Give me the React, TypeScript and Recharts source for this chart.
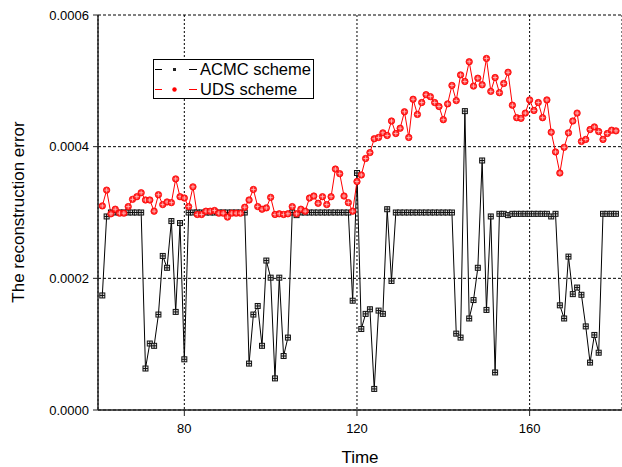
import React from 'react';
import { LineChart, Line, XAxis, YAxis, CartesianGrid, Legend } from 'recharts';

// values are in units of 1e-4
const SCALE = 1e-4;

const times = [
  61, 62, 63, 64, 65, 66, 67, 68, 69, 70,
  71, 72, 73, 74, 75, 76, 77, 78, 79, 80,
  81, 82, 83, 84, 85, 86, 87, 88, 89, 90,
  91, 92, 93, 94, 95, 96, 97, 98, 99, 100,
  101, 102, 103, 104, 105, 106, 107, 108, 109, 110,
  111, 112, 113, 114, 115, 116, 117, 118, 119, 120,
  121, 122, 123, 124, 125, 126, 127, 128, 129, 130,
  131, 132, 133, 134, 135, 136, 137, 138, 139, 140,
  141, 142, 143, 144, 145, 146, 147, 148, 149, 150,
  151, 152, 153, 154, 155, 156, 157, 158, 159, 160,
  161, 162, 163, 164, 165, 166, 167, 168, 169, 170,
  171, 172, 173, 174, 175, 176, 177, 178, 179, 180,
];

const acmc = [
  1.74, 2.94, 3.0, 3.0, 3.0, 3.0, 3.0, 3.0, 3.0, 3.0,
  0.63, 1.01, 0.975, 1.45, 2.34, 2.16, 2.87, 1.49, 2.84, 0.77,
  3.0, 3.0, 3.0, 3.0, 3.0, 3.0, 3.0, 3.0, 3.0, 3.0,
  3.0, 3.0, 3.0, 3.0, 0.705, 1.45, 1.58, 0.975, 2.27, 2.01,
  0.48, 2.01, 0.82, 1.1, 3.0, 2.96, 3.0, 3.0, 3.0, 3.0,
  3.0, 3.0, 3.0, 3.0, 3.0, 3.0, 3.0, 3.0, 1.66, 3.6,
  1.23, 1.46, 1.53, 0.32, 1.51, 1.46, 3.05, 1.96, 3.0, 3.0,
  3.0, 3.0, 3.0, 3.0, 3.0, 3.0, 3.0, 3.0, 3.0, 3.0,
  3.0, 3.0, 1.16, 1.1, 4.54, 1.39, 1.67, 2.16, 3.79, 1.52,
  2.94, 0.57, 2.98, 2.98, 2.96, 2.98, 2.98, 2.98, 2.98, 2.98,
  2.98, 2.98, 2.98, 2.98, 2.94, 2.98, 1.59, 1.39, 2.33, 1.76,
  1.86, 1.75, 1.27, 0.72, 1.14, 0.87, 2.98, 2.98, 2.98, 2.98,
];

const uds = [
  3.1, 3.34, 2.98, 3.05, 2.99, 2.99, 3.09, 3.2, 3.24, 3.3,
  3.19, 3.19, 3.02, 3.27, 3.12, 3.16, 3.15, 3.51, 3.24, 3.22,
  3.09, 3.39, 2.97, 2.97, 3.02, 3.02, 3.03, 2.99, 2.99, 2.93,
  2.99, 2.99, 2.99, 3.08, 3.19, 3.35, 3.09, 3.05, 3.07, 3.23,
  2.97, 2.98, 2.97, 2.98, 3.09, 2.98, 3.05, 3.02, 3.22, 3.25,
  3.14, 3.24, 3.12, 3.24, 3.66, 3.59, 3.25, 3.15, 3.02, 3.47,
  3.57, 3.82, 3.91, 4.12, 4.14, 4.21, 4.17, 4.39, 4.2, 4.28,
  4.53, 4.14, 4.72, 4.49, 4.67, 4.79, 4.76, 4.67, 4.61, 4.41,
  4.65, 4.93, 4.7, 5.09, 4.99, 5.29, 4.92, 5.04, 4.94, 5.34,
  4.84, 5.05, 4.82, 4.96, 5.13, 4.63, 4.44, 4.43, 4.51, 4.71,
  4.55, 4.67, 4.44, 4.71, 4.22, 3.92, 3.6, 3.99, 4.21, 4.39,
  4.51, 4.08, 4.11, 4.26, 4.3, 4.23, 4.11, 4.2, 4.25, 4.24,
];

const xTicks = [80, 120, 160];
const yTicks = [0, 0.0002, 0.0004, 0.0006];
const seriesNames = ['ACMC scheme', 'UDS scheme'];

const data = times.map((t, i) => ({ t, acmc: acmc[i] * SCALE, uds: uds[i] * SCALE }));

const FONT = '"Liberation Sans", Arial, sans-serif';

// square marker with a cross pattern
const SquareDot = (props: any) => {
  const { cx, cy, index } = props;
  if (cx == null || cy == null) return null;
  return (
    <g key={`sq-${index}`}>
      <rect x={cx - 2.5} y={cy - 2.5} width={5} height={5} fill="#ddd" stroke="#111" strokeWidth={1} />
      <line x1={cx - 2.5} y1={cy} x2={cx + 2.5} y2={cy} stroke="#111" strokeWidth={1} />
      <line x1={cx} y1={cy - 2.5} x2={cx} y2={cy + 2.5} stroke="#111" strokeWidth={1} />
    </g>
  );
};

// red circle marker with a light cross
const CircleDot = (props: any) => {
  const { cx, cy, index } = props;
  if (cx == null || cy == null) return null;
  return (
    <g key={`ci-${index}`}>
      <circle cx={cx} cy={cy} r={3.2} fill="#ff2a2a" stroke="#f00" strokeWidth={0.8} />
      <line x1={cx - 2.1} y1={cy} x2={cx + 2.1} y2={cy} stroke="#ffc8c8" strokeWidth={0.8} />
      <line x1={cx} y1={cy - 2.1} x2={cx} y2={cy + 2.1} stroke="#ffc8c8" strokeWidth={0.8} />
    </g>
  );
};

const LegendBox = () => (
  <div
    style={{
      width: 159,
      height: 38,
      border: '1px solid #000',
      background: '#fff',
      position: 'relative',
      fontFamily: FONT,
      fontSize: 16.5,
      color: '#000',
    }}
  >
    <svg width={46} height={38} style={{ position: 'absolute', left: 0, top: 0 }}>
      <line x1={1} y1={9.5} x2={8} y2={9.5} stroke="#000" strokeWidth={1} />
      <rect x={19} y={8} width={3} height={3} fill="#222" />
      <line x1={35} y1={9.5} x2={43} y2={9.5} stroke="#000" strokeWidth={1} />
      <line x1={1} y1={29.5} x2={8} y2={29.5} stroke="#f00" strokeWidth={1} />
      <circle cx={20.5} cy={29.5} r={2.2} fill="#f00" />
      <line x1={35} y1={29.5} x2={43} y2={29.5} stroke="#f00" strokeWidth={1} />
    </svg>
    <div style={{ position: 'absolute', left: 46, top: 0, lineHeight: '19px', whiteSpace: 'nowrap' }}>
      {seriesNames[0]}
    </div>
    <div style={{ position: 'absolute', left: 46, top: 20, lineHeight: '19px', whiteSpace: 'nowrap' }}>
      {seriesNames[1]}
    </div>
  </div>
);

const YLabel = () => (
  <text
    x={18}
    y={212}
    transform="rotate(-90 18 212)"
    textAnchor="middle"
    dominantBaseline="central"
    fontSize={17}
    fontFamily={FONT}
    fill="#000"
  >
    The reconstruction error
  </text>
);

export default function App() {
  return (
    <div style={{ position: 'absolute', left: 0, top: 0, width: 622, height: 467, background: '#fff' }}>
      <LineChart width={622} height={467} data={data} margin={{ top: 15, right: 0, bottom: 0, left: 0 }}>
        <CartesianGrid vertical={false} stroke="#000" strokeDasharray="3 2" />
        <CartesianGrid horizontal={false} stroke="#000" strokeDasharray="2 2" />
        <XAxis
          type="number"
          dataKey="t"
          domain={[60, 181.4]}
          ticks={xTicks}
          allowDataOverflow
          height={57}
          tickSize={6}
          tickMargin={8}
          tick={{ fontSize: 13, fontFamily: FONT, fill: '#000' }}
          axisLine={{ stroke: '#222', strokeWidth: 1.5 }}
          tickLine={{ stroke: '#222' }}
          label={{ value: 'Time', position: 'insideBottom', offset: 4, fontSize: 17, fontFamily: FONT, fill: '#000' }}
        />
        <YAxis
          type="number"
          domain={[0, 0.0006]}
          ticks={yTicks}
          width={98}
          tickSize={5}
          tickMargin={4}
          tickFormatter={(v: number) => v.toFixed(4)}
          tick={{ fontSize: 13, fontFamily: FONT, fill: '#000' }}
          axisLine={{ stroke: '#222', strokeWidth: 1.5 }}
          tickLine={{ stroke: '#222' }}
          label={<YLabel />}
        />
        <Legend
          layout="vertical"
          align="center"
          verticalAlign="middle"
          content={() => <LegendBox />}
          wrapperStyle={{ left: 153, top: 59, width: 161, height: 40, zIndex: 2 }}
        />
        <Line
          type="linear"
          dataKey="acmc"
          name={seriesNames[0]}
          stroke="#000"
          strokeWidth={1}
          dot={<SquareDot />}
          activeDot={false}
          isAnimationActive={false}
        />
        <Line
          type="linear"
          dataKey="uds"
          name={seriesNames[1]}
          stroke="#f00"
          strokeWidth={1}
          dot={<CircleDot />}
          activeDot={false}
          isAnimationActive={false}
        />
      </LineChart>
    </div>
  );
}
